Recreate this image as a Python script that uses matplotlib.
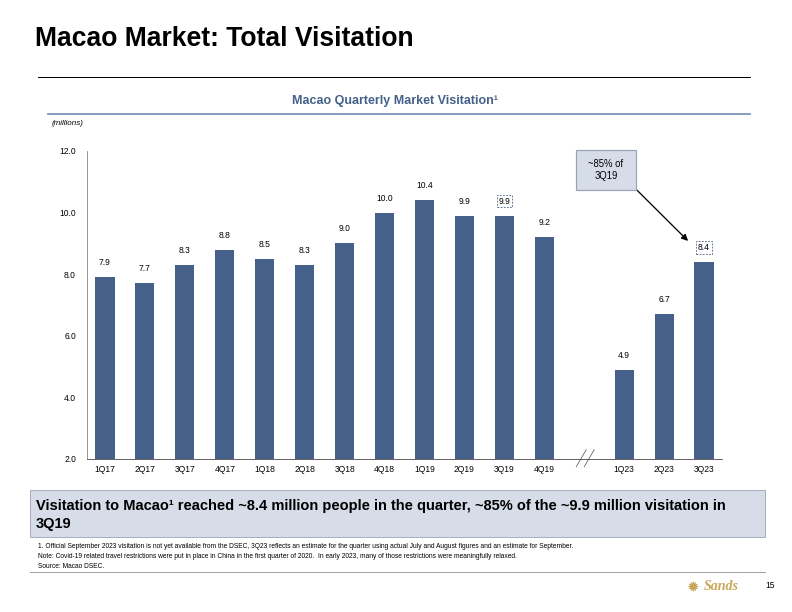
import matplotlib.pyplot as plt
from matplotlib.patches import Rectangle
from matplotlib.lines import Line2D

# Quarterly visitation data (millions)
quarters = ["1Q17", "2Q17", "3Q17", "4Q17", "1Q18", "2Q18", "3Q18", "4Q18",
            "1Q19", "2Q19", "3Q19", "4Q19", "1Q23", "2Q23", "3Q23"]
visitation = [7.9, 7.7, 8.3, 8.8, 8.5, 8.3, 9.0, 10.0, 10.4, 9.9, 9.9, 9.2, 4.9, 6.7, 8.4]
boxed_labels = ["3Q19", "3Q23"]

# slot positions, leave one empty slot for the axis break
positions = list(range(12)) + [13, 14, 15]

bar_color = "#45618A"
box_fill = "#D6DCE8"
plt.rcParams["font.family"] = ["Liberation Sans", "DejaVu Sans"]

fig = plt.figure(figsize=(11, 8.5), dpi=72)

def fx(px):
    return px / 792

def fy(py):
    return 1 - py / 612

# Page title and rule
fig.text(fx(35), fy(39), "Macao Market: Total Visitation", fontsize=26.5,
         fontweight="bold", va="center", ha="left")
fig.add_artist(Line2D([fx(38), fx(750)], [fy(77)] * 2, color="black", lw=1))

# Chart subtitle
fig.text(fx(395), fy(101), "Macao Quarterly Market Visitation\u00b9", fontsize=12.5,
         fontweight="bold", color=bar_color, ha="center", va="center")
fig.add_artist(Line2D([fx(48), fx(750)], [fy(114)] * 2, color="#7F93B5", lw=1.8))
fig.text(fx(52), fy(124), "(millions)", fontsize=8, style="italic", ha="left", va="center")

# Bar chart
ax = fig.add_axes([fx(87), 0.25, 635 / 792, 308 / 612])
ax.bar(positions, visitation, width=0.48, color=bar_color)
ax.set_ylim(2.0, 12.0)
ax.set_xlim(-0.45, 15.45)
ax.set_yticks([2, 4, 6, 8, 10, 12])
ax.set_yticklabels([f"{v:.1f}" for v in [2, 4, 6, 8, 10, 12]], fontsize=8.5)
ax.set_xticks(positions)
ax.set_xticklabels(quarters, fontsize=8.5)
ax.tick_params(axis="x", length=0, pad=6)
ax.tick_params(axis="y", length=0, pad=11)
ax.spines["top"].set_visible(False)
ax.spines["right"].set_visible(False)
ax.spines["left"].set_color("#808080")
ax.spines["bottom"].set_color("#404040")

for q, p, v in zip(quarters, positions, visitation):
    if q in boxed_labels:
        ax.annotate(f"{v:.1f}", (p, v), xytext=(0, 10), textcoords="offset points",
                    ha="center", va="bottom", fontsize=8.5,
                    bbox=dict(boxstyle="square,pad=0.2", fc="white", ec="#5B6F95",
                              ls=(0, (2, 1.5)), lw=0.9))
    else:
        ax.annotate(f"{v:.1f}", (p, v), xytext=(0, 10), textcoords="offset points",
                    ha="center", va="bottom", fontsize=8.5)

# axis break marks
for dx in [0.0, 0.2]:
    ax.plot([11.8 + dx, 12.05 + dx], [1.75, 2.3], color="#606060", lw=0.8, clip_on=False)

# callout box and arrow
fig.add_artist(Rectangle((fx(576), fy(190)), 60 / 792, 40 / 612, transform=fig.transFigure,
                         fc=box_fill, ec="#9AA3B5", lw=1.2))
fig.text(fx(606), fy(170), "~85% of\n3Q19", fontsize=9.5, ha="center", va="center",
         linespacing=1.3)
ax.annotate("", xy=(14.6, 9.08), xytext=(13.32, 10.73),
            arrowprops=dict(arrowstyle="-|>", color="black", lw=1.3, mutation_scale=13,
                            shrinkA=0, shrinkB=0))

# takeaway box
fig.add_artist(Rectangle((fx(30), fy(537)), 735 / 792, 47 / 612, transform=fig.transFigure,
                         fc=box_fill, ec="#A8AFBF", lw=1))
fig.text(fx(36), fy(515),
         "Visitation to Macao\u00b9 reached ~8.4 million people in the quarter, ~85% of the ~9.9 million visitation in\n3Q19",
         fontsize=14.6, fontweight="bold", ha="left", va="center", linespacing=1.3)

# footnotes
notes = ["1. Official September 2023 visitation is not yet available from the DSEC, 3Q23 reflects an estimate for the quarter using actual July and August figures and an estimate for September.",
         "Note: Covid-19 related travel restrictions were put in place in China in the first quarter of 2020.  In early 2023, many of those restrictions were meaningfully relaxed.",
         "Source: Macao DSEC."]
for i, n in enumerate(notes):
    fig.text(fx(38), fy(546 + 10 * i), n, fontsize=6.6, ha="left", va="center")
fig.add_artist(Line2D([fx(30), fx(765)], [fy(572)] * 2, color="#A0A0A0", lw=1))

# logo and page number
fig.text(fx(693), fy(587), "\u2739", fontsize=15, color="#C9A75A", ha="center", va="center",
         family=["DejaVu Sans"])
fig.text(fx(704), fy(587), "Sands", fontsize=14, color="#C9A75A", ha="left", va="center",
         family=["Liberation Serif"], style="italic", fontweight="bold")
fig.text(fx(770), fy(585), "15", fontsize=8.5, ha="center", va="center")

fig.savefig("out.png", dpi=72)
